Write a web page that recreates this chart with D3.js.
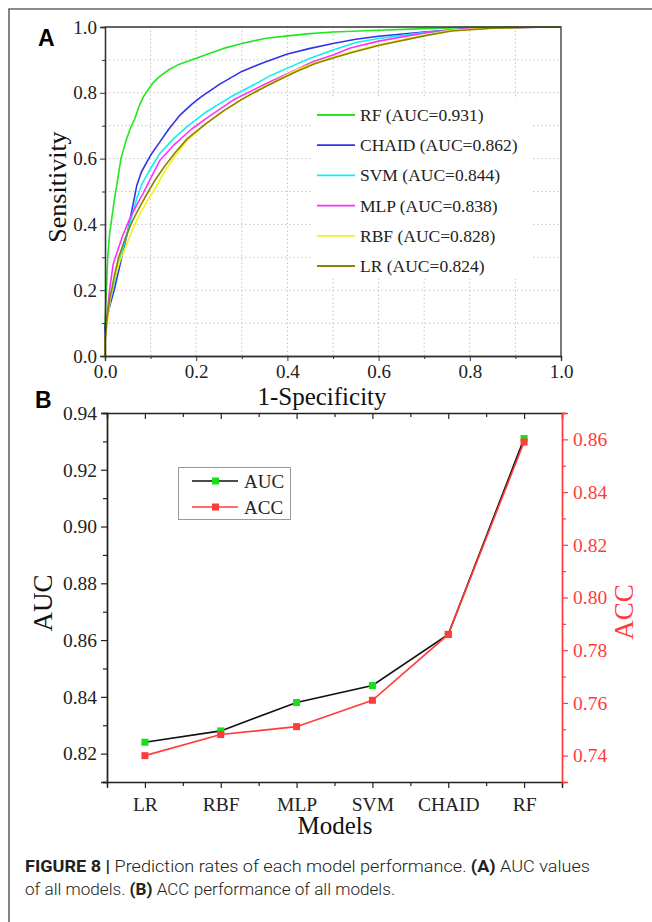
<!DOCTYPE html>
<html>
<head>
<meta charset="utf-8">
<script src="https://cdn.jsdelivr.net/npm/d3@7"></script>
<style>
  body { margin: 0; background: #fff; }
  svg { display: block; }
  .serif { font-family: "Liberation Serif", "Times New Roman", serif; }
</style>
</head>
<body>
<script>
// ---- Panel A: ROC curves, [1-specificity, sensitivity]
const rocRF = [[0,0],[0,0.1],[0.003,0.2],[0.006,0.3],[0.01,0.37],[0.015,0.42],[0.02,0.47],[0.027,0.53],
  [0.035,0.6],[0.045,0.65],[0.055,0.69],[0.065,0.72],[0.075,0.76],[0.085,0.79],[0.095,0.81],[0.105,0.83],
  [0.12,0.85],[0.14,0.87],[0.16,0.885],[0.18,0.895],[0.2,0.905],[0.23,0.92],[0.26,0.935],[0.3,0.95],
  [0.35,0.965],[0.4,0.973],[0.45,0.98],[0.5,0.985],[0.6,0.99],[0.7,0.995],[0.8,0.999],[0.9,1],[1,1]];
const rocCHAID = [[0,0],[0,0.09],[0.005,0.12],[0.01,0.15],[0.02,0.2],[0.03,0.26],[0.04,0.32],[0.05,0.38],
  [0.06,0.45],[0.07,0.52],[0.08,0.56],[0.1,0.61],[0.12,0.65],[0.14,0.69],[0.165,0.733],[0.19,0.765],
  [0.21,0.787],[0.25,0.825],[0.3,0.865],[0.35,0.893],[0.4,0.918],[0.45,0.935],[0.5,0.95],[0.55,0.963],
  [0.6,0.972],[0.7,0.985],[0.8,0.995],[0.9,0.999],[1,1]];
const rocSVM = [[0,0],[0,0.06],[0.005,0.12],[0.01,0.16],[0.02,0.22],[0.03,0.28],[0.04,0.33],[0.05,0.38],
  [0.06,0.43],[0.07,0.48],[0.08,0.52],[0.1,0.57],[0.12,0.615],[0.15,0.66],[0.18,0.697],[0.22,0.74],
  [0.275,0.787],[0.32,0.82],[0.36,0.85],[0.4,0.875],[0.45,0.905],[0.5,0.93],[0.55,0.953],[0.6,0.965],
  [0.7,0.983],[0.8,0.994],[0.9,0.999],[1,1]];
const rocMLP = [[0,0],[0,0.05],[0.005,0.13],[0.01,0.2],[0.018,0.28],[0.03,0.33],[0.04,0.37],[0.055,0.42],
  [0.07,0.46],[0.084,0.495],[0.1,0.54],[0.121,0.596],[0.15,0.64],[0.19,0.69],[0.23,0.73],[0.281,0.778],
  [0.32,0.805],[0.356,0.83],[0.4,0.858],[0.457,0.895],[0.5,0.915],[0.538,0.936],[0.6,0.957],[0.714,0.985],
  [0.8,0.995],[0.9,0.999],[1,1]];
const rocRBF = [[0,0],[0,0.04],[0.005,0.1],[0.011,0.17],[0.02,0.23],[0.033,0.29],[0.045,0.33],[0.062,0.39],
  [0.08,0.44],[0.092,0.47],[0.106,0.5],[0.13,0.56],[0.155,0.61],[0.18,0.655],[0.22,0.705],[0.26,0.745],
  [0.281,0.763],[0.33,0.805],[0.378,0.839],[0.42,0.87],[0.457,0.89],[0.5,0.908],[0.538,0.924],[0.6,0.946],
  [0.7,0.975],[0.758,0.99],[0.85,0.997],[0.95,1],[1,1]];
const rocLR = [[0,0],[0,0.05],[0.005,0.12],[0.01,0.17],[0.02,0.24],[0.03,0.3],[0.045,0.36],[0.06,0.41],
  [0.075,0.45],[0.095,0.5],[0.11,0.535],[0.13,0.575],[0.155,0.62],[0.18,0.66],[0.22,0.705],[0.26,0.745],
  [0.3,0.78],[0.34,0.81],[0.38,0.838],[0.42,0.865],[0.46,0.888],[0.5,0.906],[0.54,0.922],[0.6,0.944],
  [0.7,0.973],[0.76,0.988],[0.85,0.996],[0.95,1],[1,1]];

const rocNames = ["RF", "CHAID", "SVM", "MLP", "RBF", "LR"];
const rocAuc = ["0.931", "0.862", "0.844", "0.838", "0.828", "0.824"];
const rocCurves = [rocRF, rocCHAID, rocSVM, rocMLP, rocRBF, rocLR];
const rocTicks = [0, 0.2, 0.4, 0.6, 0.8, 1.0];

// ---- Panel B: AUC and ACC per model
const models = ["LR", "RBF", "MLP", "SVM", "CHAID", "RF"];
const aucValues = [0.824, 0.828, 0.838, 0.844, 0.862, 0.931];
const accValues = [0.740, 0.748, 0.751, 0.761, 0.786, 0.859];
const aucTicks = [0.82, 0.84, 0.86, 0.88, 0.90, 0.92, 0.94];
const accTicks = [0.74, 0.76, 0.78, 0.80, 0.82, 0.84, 0.86];

// colours
const rocColors = { RF: "#22e622", CHAID: "#3232ee", SVM: "#10f0f0", MLP: "#ff30ff", RBF: "#f2f020", LR: "#8a8400" };
const red = "#ff3b3b";
const serifFont = '"Liberation Serif", "Times New Roman", serif';

const svg = d3.select("body").append("svg")
  .attr("width", 652).attr("height", 922);

// outer frame
svg.append("path")
  .attr("d", "M9,922 V9 H652")
  .attr("fill", "none").attr("stroke", "#666").attr("stroke-width", 1.6);

// ================= Panel A =================
const xA = d3.scaleLinear().domain([0, 1]).range([105, 561]);
const yA = d3.scaleLinear().domain([0, 1]).range([356, 27]);
const gA = svg.append("g");

// dotted grid every 0.1
const gridVals = d3.range(1, 10).map(d => d / 10);
gA.selectAll(".gx").data(gridVals).enter().append("line")
  .attr("x1", d => xA(d)).attr("x2", d => xA(d))
  .attr("y1", yA(0)).attr("y2", yA(1))
  .attr("stroke", "#c4c4c4").attr("stroke-dasharray", "1.5,2.5");
gA.selectAll(".gy").data(gridVals).enter().append("line")
  .attr("y1", d => yA(d)).attr("y2", d => yA(d))
  .attr("x1", xA(0)).attr("x2", xA(1))
  .attr("stroke", "#c4c4c4").attr("stroke-dasharray", "1.5,2.5");

// legend background (hides grid)
gA.append("rect").attr("x", 312).attr("y", 99).attr("width", 220).attr("height", 180).attr("fill", "#fff");

// curves
const line = d3.line().x(d => xA(d[0])).y(d => yA(d[1]));
rocCurves.forEach((c, i) => {
  gA.append("path").datum(c)
    .attr("d", line)
    .attr("fill", "none")
    .attr("stroke", rocColors[rocNames[i]])
    .attr("stroke-width", 1.6)
    .attr("stroke-linejoin", "round");
});

// axes
const axA = gA.append("g");
axA.append("g").attr("transform", `translate(0,${yA(0)})`)
  .call(d3.axisBottom(xA).tickValues(rocTicks).tickFormat(d3.format(".1f")).tickSize(5).tickPadding(4));
axA.append("g").attr("transform", `translate(0,${yA(0)})`)
  .call(d3.axisBottom(xA).tickValues(gridVals.filter((d, i) => i % 2 === 0)).tickFormat("").tickSize(3));
axA.append("g").attr("transform", `translate(${xA(0)},0)`)
  .call(d3.axisLeft(yA).tickValues(rocTicks).tickFormat(d3.format(".1f")).tickSize(5).tickPadding(3));
axA.append("g").attr("transform", `translate(${xA(0)},0)`)
  .call(d3.axisLeft(yA).tickValues(gridVals.filter((d, i) => i % 2 === 0)).tickFormat("").tickSize(3));
axA.selectAll(".domain").attr("stroke", "#333").attr("stroke-width", 1.3);
axA.selectAll(".tick line").attr("stroke", "#333");
axA.selectAll(".tick text").attr("fill", "#222")
  .style("font-family", serifFont).style("font-size", "19px");
// top and right border
gA.append("path")
  .attr("d", `M${xA(0)},${yA(1)} H${xA(1)} V${yA(0)}`)
  .attr("fill", "none").attr("stroke", "#333").attr("stroke-width", 1.3);

// legend
const legA = gA.append("g");
rocNames.forEach((n, i) => {
  const y = 115 + i * 30.2;
  legA.append("line").attr("x1", 317).attr("x2", 355).attr("y1", y).attr("y2", y)
    .attr("stroke", rocColors[n]).attr("stroke-width", 1.8);
  legA.append("text").attr("class", "serif").attr("x", 360).attr("y", y + 6)
    .attr("font-size", 17.5).attr("fill", "#222")
    .text(`${n} (AUC=${rocAuc[i]})`);
});

// axis titles
gA.append("text").attr("class", "serif").attr("x", 322).attr("y", 405)
  .attr("text-anchor", "middle").attr("font-size", 25).attr("fill", "#111").text("1-Specificity");
gA.append("text").attr("class", "serif")
  .attr("transform", "translate(66,187) rotate(-90)")
  .attr("text-anchor", "middle").attr("font-size", 26).attr("fill", "#111").text("Sensitivity");
gA.append("text").attr("x", 38).attr("y", 46)
  .attr("font-family", "Liberation Sans, Arial, sans-serif").attr("font-weight", "bold")
  .attr("font-size", 23).attr("fill", "#000").text("A");

// ================= Panel B =================
const xB = d3.scalePoint().domain(models).range([107, 562]).padding(0.5);
const yAuc = d3.scaleLinear().domain([0.81, 0.94]).range([782, 413]);
const yAcc = d3.scaleLinear().domain([0.73, 0.87]).range([782, 413]);
const gB = svg.append("g");
const step = xB.step();
const halfTicks = d3.range(0, 13).map(i => 107 + i * step / 2).filter((d, i) => i % 2 === 0);

// bottom axis
const axB = gB.append("g");
axB.append("g").attr("transform", "translate(0,782)")
  .call(d3.axisBottom(xB).tickSize(6).tickPadding(9));
axB.append("g").attr("transform", "translate(0,782)")
  .call(d3.axisBottom(d3.scaleIdentity()).tickValues(halfTicks).tickFormat("").tickSize(4))
  .call(g => g.select(".domain").remove());
// top axis (inward ticks)
axB.append("g").attr("transform", "translate(0,413)")
  .call(d3.axisBottom(xB).tickSize(6).tickFormat(""));
axB.append("g").attr("transform", "translate(0,413)")
  .call(d3.axisBottom(d3.scaleIdentity()).tickValues(halfTicks).tickFormat("").tickSize(4))
  .call(g => g.select(".domain").remove());
// left axis
axB.append("g").attr("transform", "translate(107,0)")
  .call(d3.axisLeft(yAuc).tickValues(aucTicks).tickFormat(d3.format(".2f")).tickSize(6).tickPadding(4));
axB.append("g").attr("transform", "translate(107,0)")
  .call(d3.axisLeft(yAuc).tickValues(d3.range(0.81, 0.945, 0.02)).tickFormat("").tickSize(4));
axB.selectAll(".domain").attr("stroke", "#222").attr("stroke-width", 1.4);
axB.selectAll(".tick line").attr("stroke", "#222").attr("stroke-width", 1.2);
axB.selectAll(".tick text").attr("fill", "#222")
  .style("font-family", serifFont).style("font-size", "19.5px");

// right axis (red)
const axR = gB.append("g");
axR.append("g").attr("transform", "translate(562,0)")
  .call(d3.axisRight(yAcc).tickValues(accTicks).tickFormat(d3.format(".2f")).tickSize(6).tickPadding(5));
axR.append("g").attr("transform", "translate(562,0)")
  .call(d3.axisRight(yAcc).tickValues(d3.range(0.73, 0.875, 0.02)).tickFormat("").tickSize(4));
axR.selectAll(".domain").attr("stroke", red).attr("stroke-width", 1.4);
axR.selectAll(".tick line").attr("stroke", red).attr("stroke-width", 1.2);
axR.selectAll(".tick text").attr("fill", red)
  .style("font-family", serifFont).style("font-size", "19.5px");

// series
const aucLine = d3.line().x((d, i) => xB(models[i])).y(d => yAuc(d));
const accLine = d3.line().x((d, i) => xB(models[i])).y(d => yAcc(d));
gB.append("path").datum(aucValues).attr("d", aucLine)
  .attr("fill", "none").attr("stroke", "#111").attr("stroke-width", 1.6);
gB.selectAll(".aucPt").data(aucValues).enter().append("rect")
  .attr("x", (d, i) => xB(models[i]) - 3.5).attr("y", d => yAuc(d) - 3.5)
  .attr("width", 7).attr("height", 7).attr("fill", "#16e016");
gB.append("path").datum(accValues).attr("d", accLine)
  .attr("fill", "none").attr("stroke", red).attr("stroke-width", 1.6);
gB.selectAll(".accPt").data(accValues).enter().append("rect")
  .attr("x", (d, i) => xB(models[i]) - 3.5).attr("y", d => yAcc(d) - 3.5)
  .attr("width", 7).attr("height", 7).attr("fill", red);

// legend B
const legB = gB.append("g");
legB.append("rect").attr("x", 178.5).attr("y", 467.5).attr("width", 112).attr("height", 52)
  .attr("fill", "#fff").attr("stroke", "#999").attr("stroke-width", 1);
[["AUC", "#111", "#16e016"], ["ACC", red, red]].forEach((r, i) => {
  const y = 481 + i * 26;
  legB.append("line").attr("x1", 192).attr("x2", 238).attr("y1", y).attr("y2", y)
    .attr("stroke", r[1]).attr("stroke-width", 1.5);
  legB.append("rect").attr("x", 212).attr("y", y - 3.5).attr("width", 7).attr("height", 7).attr("fill", r[2]);
  legB.append("text").attr("class", "serif").attr("x", 244).attr("y", y + 6.5)
    .attr("font-size", 19).attr("fill", "#222").text(r[0]);
});

// titles
gB.append("text").attr("class", "serif").attr("x", 335).attr("y", 834)
  .attr("text-anchor", "middle").attr("font-size", 25).attr("fill", "#111").text("Models");
gB.append("text").attr("class", "serif")
  .attr("transform", "translate(52,603) rotate(-90)")
  .attr("text-anchor", "middle").attr("font-size", 27).attr("fill", "#111").text("AUC");
gB.append("text").attr("class", "serif")
  .attr("transform", "translate(633,612) rotate(-90)")
  .attr("text-anchor", "middle").attr("font-size", 27).attr("fill", red).text("ACC");
gB.append("text").attr("x", 35).attr("y", 408)
  .attr("font-family", "Liberation Sans, Arial, sans-serif").attr("font-weight", "bold")
  .attr("font-size", 23).attr("fill", "#000").text("B");

// ================= Caption =================
const cap = svg.append("g")
  .style("font-family", "Roboto, Arial, sans-serif")
  .attr("font-size", 17).attr("fill", "#222");
const c1 = cap.append("text").attr("x", 25).attr("y", 872)
  .attr("textLength", 565).attr("lengthAdjust", "spacingAndGlyphs");
c1.append("tspan").attr("font-weight", "bold").text("FIGURE 8 | ");
c1.append("tspan").attr("font-weight", 300).text("Prediction rates of each model performance. ");
c1.append("tspan").attr("font-weight", "bold").text("(A)");
c1.append("tspan").attr("font-weight", 300).text(" AUC values");
const c2 = cap.append("text").attr("x", 25).attr("y", 895)
  .attr("textLength", 370).attr("lengthAdjust", "spacingAndGlyphs");
c2.append("tspan").attr("font-weight", 300).text("of all models. ");
c2.append("tspan").attr("font-weight", "bold").text("(B)");
c2.append("tspan").attr("font-weight", 300).text(" ACC performance of all models.");
</script>
</body>
</html>
